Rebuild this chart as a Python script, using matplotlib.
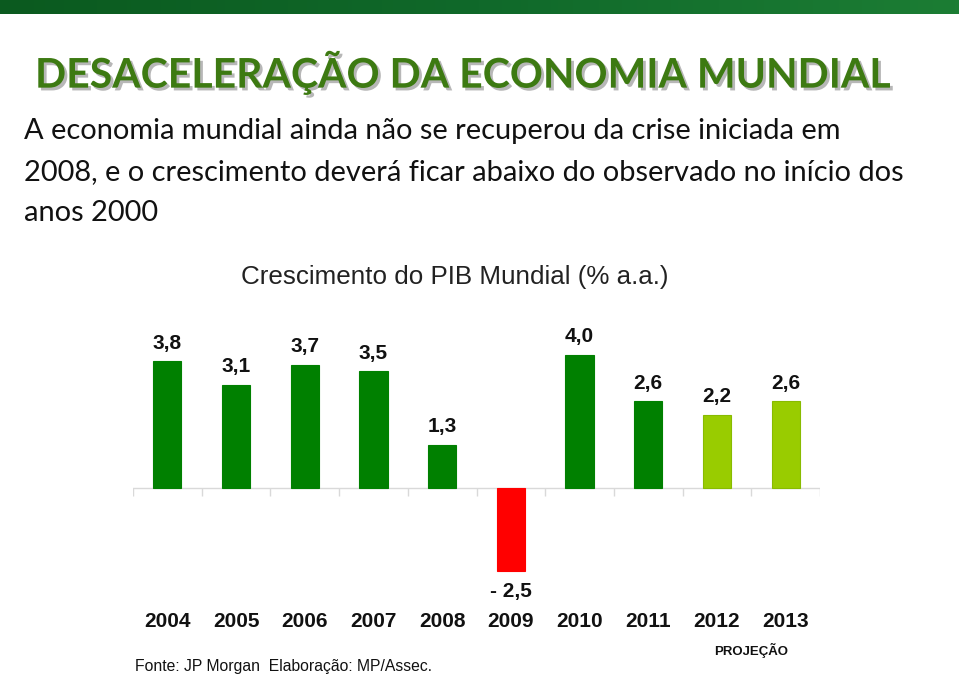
import numpy as np
import matplotlib.pyplot as plt
import matplotlib.patheffects as pe
from matplotlib.colors import LinearSegmentedColormap

# data
years = ["2004", "2005", "2006", "2007", "2008", "2009", "2010", "2011", "2012", "2013"]
growth = [3.8, 3.1, 3.7, 3.5, 1.3, -2.5, 4.0, 2.6, 2.2, 2.6]
labels = ["3,8", "3,1", "3,7", "3,5", "1,3", "- 2,5", "4,0", "2,6", "2,2", "2,6"]
projection = [False] * 8 + [True, True]

dark_green = "#008000"
light_green = "#99cc00"
red = "#ff0000"

W, H = 959, 678
fig = plt.figure(figsize=(W / 100, H / 100), dpi=100)

# top banner gradient
band = fig.add_axes([0, 1 - 14 / H, 1, 14 / H])
grad = np.linspace(0, 1, 256).reshape(1, -1)
cmap = LinearSegmentedColormap.from_list("band", ["#0b5a1f", "#10692a", "#1c7d34"])
band.imshow(grad, aspect="auto", cmap=cmap, extent=[0, 1, 0, 1])
band.axis("off")

# title
fig.text(35 / W, 1 - 73 / H, "DESACELERAÇÃO DA ECONOMIA MUNDIAL",
         family="Lato", weight="bold", fontsize=29.5, color="#3d7a12",
         va="center", ha="left",
         path_effects=[pe.withSimplePatchShadow(offset=(2, -2), shadow_rgbFace="#888888", alpha=0.6)])

subtitle = ["A economia mundial ainda não se recuperou da crise iniciada em",
            "2008, e o crescimento deverá ficar abaixo do observado no início dos",
            "anos 2000"]
for i, line in enumerate(subtitle):
    fig.text(24 / W, 1 - (131 + 41 * i) / H, line, family="Lato", fontsize=20.9,
             color="#111111", va="center", ha="left")

fig.text(455 / W, 1 - 277 / H, "Crescimento do PIB Mundial (% a.a.)",
         family="Liberation Sans", fontsize=18.7, color="#222222", ha="center", va="center")

# chart
scale = 33.3
base = 488
ytop, ybot = 4.5, -3.6
ax_top = base - ytop * scale
ax_bot = base - ybot * scale
ax = fig.add_axes([133 / W, 1 - ax_bot / H, (820 - 133) / W, (ax_bot - ax_top) / H])
x = np.arange(len(years))
colors = [red if v < 0 else (light_green if p else dark_green) for v, p in zip(growth, projection)]
edges = ["#88bb00" if p else c for c, p in zip(colors, projection)]
ax.bar(x, growth, width=0.41, color=colors, edgecolor=edges, linewidth=0.8, zorder=3)
ax.set_xlim(-0.5, len(years) - 0.5)
ax.set_ylim(ybot, ytop)
ax.axhline(0, color="#d9d9d9", linewidth=1, zorder=2)
ax.vlines(np.arange(len(years) + 1) - 0.5, -0.25, 0, color="#d9d9d9", linewidth=1, zorder=2)
for xi, v, lab in zip(x, growth, labels):
    if v >= 0:
        ax.annotate(lab, (xi, v), xytext=(0, 6), textcoords="offset points",
                    ha="center", va="bottom", family="Liberation Sans", weight="bold",
                    fontsize=15, color="#111111")
    else:
        ax.annotate(lab, (xi, v), xytext=(0, -8), textcoords="offset points",
                    ha="center", va="top", family="Liberation Sans", weight="bold",
                    fontsize=15, color="#111111")
ax.set_xticks(x)
ax.set_xticklabels(years, family="Liberation Sans", weight="bold", fontsize=15, color="#111111")
ax.tick_params(axis="x", length=0, pad=3)
ax.set_yticks([])
for s in ax.spines.values():
    s.set_visible(False)

fig.text(751 / W, 1 - 650 / H, "PROJEÇÃO", family="Liberation Sans", weight="bold",
         fontsize=9.5, color="#111111", ha="center", va="center")
fig.text(135 / W, 1 - 667 / H, "Fonte: JP Morgan  Elaboração: MP/Assec.",
         family="Liberation Sans", fontsize=11.3, color="#111111", ha="left", va="center")

fig.savefig("out.png", dpi=100)
